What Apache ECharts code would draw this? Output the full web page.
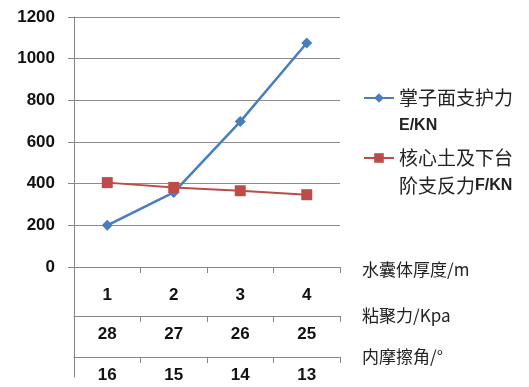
<!DOCTYPE html>
<html>
<head>
<meta charset="utf-8">
<script src="https://cdn.jsdelivr.net/npm/echarts@6/dist/echarts.min.js"></script>
<style>
  html, body { margin: 0; padding: 0; background: #fff; }
  #chart { width: 529px; height: 387px; }
</style>
</head>
<body>
<div id="chart"></div>
<script>
// category rows under the plot
const thickness = ['1', '2', '3', '4']
const cohesion = ['28', '27', '26', '25']
const friction = ['16', '15', '14', '13']
const rowNames = ['水囊体厚度/m', '粘聚力/Kpa', '内摩擦角/°']

// series values
const faceSupport = [200, 358, 698, 1075]
const coreReaction = [405, 382, 366, 347]
const seriesNames = ['掌子面支护力\nE/KN', '核心土及下台\n阶支反力F/KN']

const cjk = '"Noto Sans CJK SC", sans-serif'
const num = '"Liberation Sans", Arial, sans-serif'
const axisGray = '#868686'

const labelStyle = { interval: 0, color: '#111', fontSize: 17, fontWeight: 'bold', fontFamily: num }

// one grid per table row under the plot; bottom edge of each grid is the row line
const rowGrid = (bottom) => ({ left: 74, right: 189, top: 267, bottom: bottom, outerBoundsMode: 'none' })

const rowAxis = (grid, data, name, margin) => ({
  type: 'category',
  gridIndex: grid,
  position: 'bottom',
  data: data,
  boundaryGap: true,
  axisLine: { show: true, lineStyle: { color: axisGray } },
  axisTick: { show: true, interval: 0, length: 6, lineStyle: { color: axisGray } },
  axisLabel: Object.assign({ margin: margin }, labelStyle),
  name: name,
  nameLocation: 'end',
  nameGap: 22,
  nameTextStyle: { color: '#222', fontSize: 17, fontFamily: cjk }
})

const hiddenY = (grid, showLine) => ({
  type: 'value',
  gridIndex: grid,
  min: 0,
  max: 1,
  axisLine: { show: showLine, lineStyle: { color: axisGray } },
  axisTick: { show: false },
  axisLabel: { show: false },
  splitLine: { show: false }
})

const chart = echarts.init(document.getElementById('chart'))
chart.setOption({
  animation: false,
  backgroundColor: '#fff',
  color: ['#4a7ebb', '#be4b48'],
  grid: [
    { left: 74, right: 189, top: 17, bottom: 120, outerBoundsMode: 'none' },
    rowGrid(71),
    rowGrid(30),
    rowGrid(10)
  ],
  legend: {
    orient: 'vertical',
    left: 363,
    top: 56,
    padding: 0,
    itemGap: -24,
    itemWidth: 30,
    itemHeight: 12,
    data: seriesNames,
    textStyle: {
      fontFamily: cjk,
      fontSize: 19,
      lineHeight: 28,
      color: '#222',
      padding: [28, 0, 0, 0],
      rich: {
        e: { fontFamily: num, fontWeight: 'bold', fontSize: 16, lineHeight: 28, color: '#222' }
      }
    },
    formatter: name => name.replace(/[A-Za-z\/]+/g, m => '{e|' + m + '}')
  },
  xAxis: [
    {
      type: 'category',
      gridIndex: 0,
      data: thickness,
      boundaryGap: true,
      axisLine: { show: true, lineStyle: { color: axisGray } },
      axisTick: { show: true, interval: 0, length: 6, lineStyle: { color: axisGray } },
      axisLabel: Object.assign({ margin: 20 }, labelStyle),
      name: rowNames[0],
      nameLocation: 'end',
      nameGap: 22,
      nameTextStyle: { color: '#222', fontSize: 17, fontFamily: cjk, verticalAlign: 'top', lineHeight: 6 }
    },
    rowAxis(1, cohesion, rowNames[1], 10),
    rowAxis(2, friction, rowNames[2], 10),
    { type: 'category', gridIndex: 3, data: thickness, show: false }
  ],
  yAxis: [
    {
      type: 'value',
      gridIndex: 0,
      min: 0,
      max: 1200,
      interval: 200,
      axisLine: { show: true, lineStyle: { color: axisGray } },
      axisTick: { show: true, length: 6, lineStyle: { color: axisGray } },
      axisLabel: { margin: 19, color: '#111', fontSize: 17, fontWeight: 'bold', fontFamily: num, formatter: v => String(v) },
      splitLine: { show: true, lineStyle: { color: '#8c8c8c', width: 1 } }
    },
    hiddenY(1, false),
    hiddenY(2, false),
    hiddenY(3, true)
  ],
  series: [
    {
      name: seriesNames[0],
      type: 'line',
      xAxisIndex: 0,
      yAxisIndex: 0,
      data: faceSupport,
      symbol: 'diamond',
      symbolSize: 11,
      lineStyle: { width: 2.5 },
      itemStyle: { color: '#4a7ebb' }
    },
    {
      name: seriesNames[1],
      type: 'line',
      xAxisIndex: 0,
      yAxisIndex: 0,
      data: coreReaction,
      symbol: 'rect',
      symbolSize: 11,
      lineStyle: { width: 2 },
      itemStyle: { color: '#be4b48' }
    }
  ]
})
</script>
</body>
</html>
